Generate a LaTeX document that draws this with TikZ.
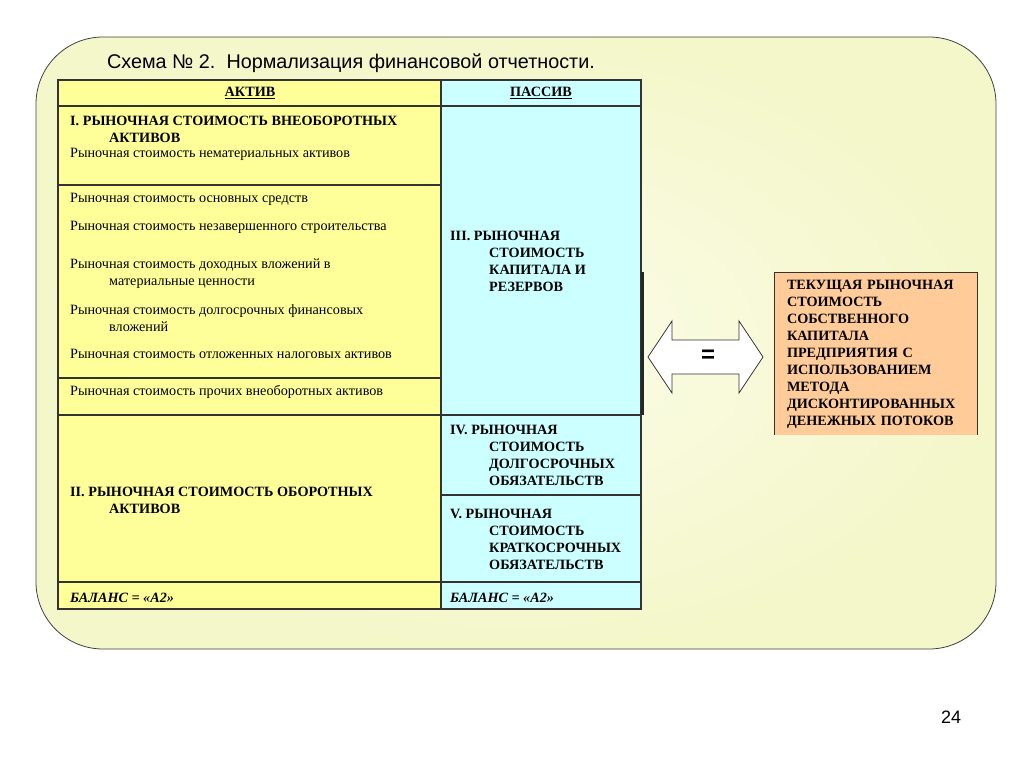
\documentclass[tikz,border=0pt]{standalone}
\usepackage{fontspec}
\setmainfont{Liberation Serif}
\newfontfamily\arialfont{Liberation Sans}
\definecolor{bgin}{RGB}{251,252,232}
\definecolor{bgout}{RGB}{244,247,202}
\definecolor{cellyellow}{HTML}{FFFF99}
\definecolor{cellcyan}{HTML}{CCFFFF}
\definecolor{cellorange}{HTML}{FFCC99}
\tikzset{
  grid/.style={draw=black!80,line width=1.2pt},
  cell/.style={anchor=west,align=left,inner sep=0pt,font=\fontsize{14.2}{17}\selectfont},
  boldcell/.style={cell,font=\fontsize{14.2}{17}\selectfont\bfseries},
}
\begin{document}
\begin{tikzpicture}[x=1pt,y=-1pt]
  \useasboundingbox (0,0) rectangle (1024,768);
  \shade[inner color=bgin,outer color=bgout,rounded corners=67pt] (36,37) rectangle (996,649);
  \draw[black!75,line width=0.8pt,rounded corners=67pt] (36,37) rectangle (996,649);
  \node[font=\arialfont\fontsize{19.8}{22}\selectfont] (title) at (351,63) {Схема № 2.\ \ Нормализация финансовой отчетности.};
  % table: actives left, passives right
  \fill[cellyellow] (58,80) rectangle (441,609);
  \fill[cellcyan] (441,80) rectangle (641,609);
  \draw[grid] (58,80) rectangle (641,609);
  \draw[grid] (441,80) -- (441,609);
  \foreach \y in {106,415,582} \draw[grid] (58,\y) -- (641,\y);
  \foreach \y in {185,378} \draw[grid] (58,\y) -- (441,\y);
  \draw[grid] (441,495) -- (641,495);
  \draw[black!85,line width=3pt] (642,272) -- (642,415);
  \node[boldcell,anchor=center] (aktiv) at (250,93) {\underline{АКТИВ}};
  \node[boldcell,anchor=center] (passiv) at (541,93) {\underline{ПАССИВ}};
  % left column
  \node[boldcell] (a0) at (70,129) {I. РЫНОЧНАЯ СТОИМОСТЬ ВНЕОБОРОТНЫХ\\\hspace*{39pt}АКТИВОВ};
  \node[cell] (a1) at (70,154) {Рыночная стоимость нематериальных активов};
  \node[cell] (a2) at (70,199) {Рыночная стоимость основных средств};
  \node[cell] (a3) at (70,227) {Рыночная стоимость незавершенного строительства};
  \node[cell] (a4) at (70,273.5) {Рыночная стоимость доходных вложений в\\\hspace*{39pt}материальные ценности};
  \node[cell] (a5) at (70,318.5) {Рыночная стоимость долгосрочных финансовых\\\hspace*{39pt}вложений};
  \node[cell] (a6) at (70,354) {Рыночная стоимость отложенных налоговых активов};
  \node[cell] (a7) at (70,392) {Рыночная стоимость прочих внеоборотных активов};
  \node[boldcell] (a8) at (70,500) {II. РЫНОЧНАЯ СТОИМОСТЬ ОБОРОТНЫХ\\\hspace*{39pt}АКТИВОВ};
  \node[boldcell,font=\fontsize{14.2}{17}\selectfont\bfseries\itshape] (abal) at (70,598) {БАЛАНС = «А2»};
  % right column
  \node[boldcell] (p3) at (450,261.5) {III. РЫНОЧНАЯ\\\hspace*{39pt}СТОИМОСТЬ\\\hspace*{39pt}КАПИТАЛА И\\\hspace*{39pt}РЕЗЕРВОВ};
  \node[boldcell] (p4) at (450,455.5) {IV. РЫНОЧНАЯ\\\hspace*{39pt}СТОИМОСТЬ\\\hspace*{39pt}ДОЛГОСРОЧНЫХ\\\hspace*{39pt}ОБЯЗАТЕЛЬСТВ};
  \node[boldcell] (p5) at (450,539.5) {V. РЫНОЧНАЯ\\\hspace*{39pt}СТОИМОСТЬ\\\hspace*{39pt}КРАТКОСРОЧНЫХ\\\hspace*{39pt}ОБЯЗАТЕЛЬСТВ};
  \node[boldcell,font=\fontsize{14.2}{17}\selectfont\bfseries\itshape] (pbal) at (450,598) {БАЛАНС = «А2»};
  % double arrow with equals sign
  \draw[black!80,fill=white,line width=0.8pt] (648,357) -- (672,321) -- (672,340) -- (739,340) -- (739,321)
    -- (763,357) -- (739,393) -- (739,374) -- (672,374) -- (672,393) -- cycle;
  \node[font=\arialfont\bfseries\fontsize{24}{26}\selectfont] (eq) at (708,356) {=};
  % result box
  \node[boldcell,anchor=center,fill=cellorange,text width=178pt,inner xsep=12pt,minimum height=162pt] (res) at (876,354)
    {ТЕКУЩАЯ РЫНОЧНАЯ\\СТОИМОСТЬ\\СОБСТВЕННОГО\\КАПИТАЛА\\ПРЕДПРИЯТИЯ С\\ИСПОЛЬЗОВАНИЕМ\\МЕТОДА\\ДИСКОНТИРОВАННЫХ\\ДЕНЕЖНЫХ ПОТОКОВ};
  \draw[black!80,line width=1.2pt] (res.south west) -- (res.north west) -- (res.north east) -- (res.south east);
  \node[font=\arialfont\fontsize{18}{20}\selectfont] (page) at (951,717) {24};
\end{tikzpicture}
\end{document}
